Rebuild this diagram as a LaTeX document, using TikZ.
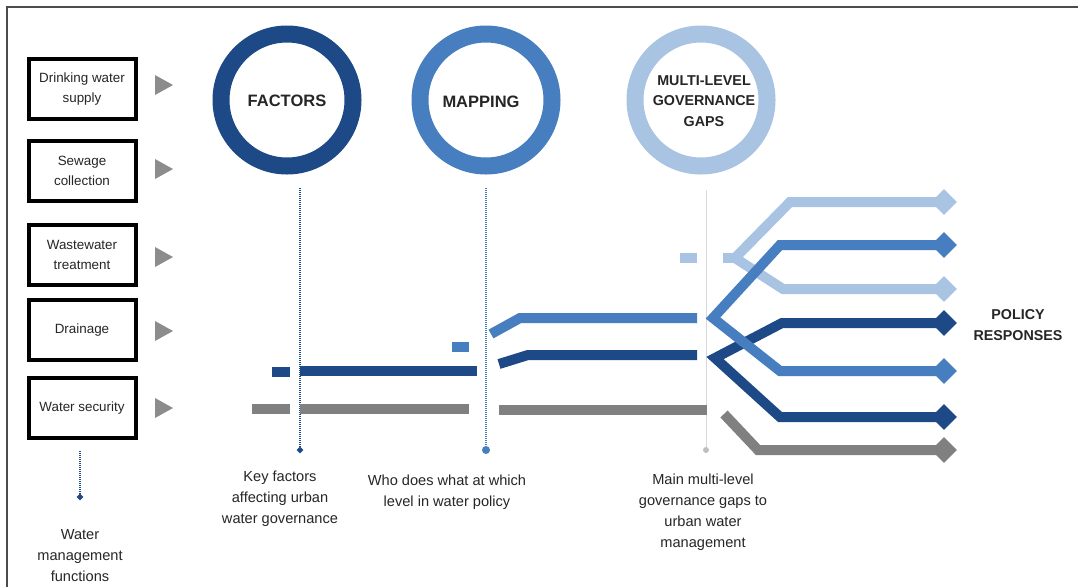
\documentclass[tikz,border=0pt]{standalone}
\usepackage{fontspec}
\setmainfont{Liberation Sans}
\usetikzlibrary{shapes.geometric}
\definecolor{navy}{RGB}{29,74,134}
\definecolor{midblue}{RGB}{70,126,192}
\definecolor{lightblue}{RGB}{169,195,226}
\definecolor{bargray}{RGB}{128,128,128}
\definecolor{trigray}{RGB}{140,140,140}
\definecolor{txt}{RGB}{38,38,38}
\begin{document}
\begin{tikzpicture}[x=1pt,y=-1pt,
  fnbox/.style={draw=black, line width=4pt, minimum width=107pt, minimum height=60pt, inner sep=0pt, align=center, font=\fontsize{13.4}{19.5}\selectfont, text=txt},
  ring/.style={line width=17pt},
  ringlabel/.style={font=\bfseries\fontsize{16.5}{20}\selectfont, text=txt, align=center},
  ringlabelsmall/.style={font=\bfseries\fontsize{14.3}{20.5}\selectfont, text=txt, align=center},
  caption/.style={font=\fontsize{14.6}{21}\selectfont, text=txt, align=center},
  bar/.style={line width=10pt, line join=miter},
  tip/.style={diamond, aspect=1, minimum size=26pt, inner sep=0pt},
  guide/.style={line width=1.3pt, dash pattern=on 1pt off 1pt},
  tri/.style={fill=trigray}
]
\useasboundingbox (0,0) rectangle (1078,587);
\fill[white] (0,0) rectangle (1078,587);
% frame
\draw[line width=1.2pt, black!70] (7,587) -- (7,7) -- (1078,7);

% function boxes
\node[fnbox] (b1) at (82,89) {Drinking water\\supply};
\node[fnbox] (b2) at (82,171) {Sewage\\collection};
\node[fnbox] (b3) at (82,255) {Wastewater\\treatment};
\node[fnbox] (b4) at (82,330) {Drainage};
\node[fnbox] (b5) at (82,408) {Water security};

% triangles
\foreach \yy in {85,169,257,331,408}{
  \fill[tri] (155,\yy-10) -- (173,\yy) -- (155,\yy+10) -- cycle;
}

% left guide
\coordinate (lg) at (80,451);
\node[diamond, aspect=1, fill=navy, minimum size=7pt, inner sep=0pt] (lgend) at (80,497) {};
\draw[guide, navy] (lg) -- (lgend);
\node[caption] (wmf) at (80,556) {Water\\management\\functions};

% circles
\draw[ring, navy] (287,100) circle (66);
\node[ringlabel] (factors) at (287,101) {FACTORS};
\draw[ring, midblue] (486,100) circle (66);
\node[ringlabel] (mapping) at (481,102) {MAPPING};
\draw[ring, lightblue] (701,100) circle (66);
\node[ringlabelsmall] (gaps) at (704,101) {MULTI-LEVEL\\GOVERNANCE\\GAPS};

% vertical guides
\coordinate (ftop) at (300,188);
\node[diamond, aspect=1, fill=navy, minimum size=7pt, inner sep=0pt] (fend) at (300,450) {};
\draw[guide, navy] (ftop) -- (fend);
\coordinate (mtop) at (486,188);
\node[circle, fill=midblue, minimum size=8pt, inner sep=0pt] (mend) at (486,450) {};
\draw[guide, midblue] (mtop) -- (mend);
\coordinate (gtop) at (706,190);
\node[circle, fill=black!25, minimum size=6pt, inner sep=0pt] (gend) at (706,450) {};
\draw[line width=1pt, black!15] (gtop) -- (gend);

% captions
\node[caption] (capf) at (280,499) {Key factors\\affecting urban\\water governance};
\node[caption] (capm) at (447,492) {Who does what at which\\level in water policy};
\node[caption] (capg) at (703,512) {Main multi-level\\governance gaps to\\urban water\\management};
\node[ringlabelsmall] (policy) at (1018,325) {POLICY\\RESPONSES};

% end diamonds
\node[tip, fill=lightblue] (r1) at (944,202) {};
\node[tip, fill=midblue] (r2) at (944,245) {};
\node[tip, fill=lightblue] (r3) at (944,289) {};
\node[tip, fill=navy] (r4) at (944,323) {};
\node[tip, fill=midblue] (r5) at (944,371) {};
\node[tip, fill=navy] (r6) at (944,417) {};
\node[tip, fill=bargray] (r7) at (944,450) {};

% gray bars
\draw[bar, bargray] (252,409) -- (290,409);
\draw[bar, bargray] (300,409) -- (469,409);
\draw[bar, bargray] (499,410) -- (707,410);
\draw[bar, bargray] (724,414) -- (758,450) -- (r7.center);

% light blue bars
\draw[bar, lightblue] (680,258) -- (697,258);
\draw[bar, lightblue] (723,258) -- (735,258);
\draw[bar, lightblue] (r1.center) -- (790,202) -- (735,258) -- (783,289) -- (r3.center);

% navy bars
\draw[bar, navy] (272,372) -- (290,372);
\draw[bar, navy] (300,371) -- (477,371);
\draw[bar, navy] (499,364) -- (528,355) -- (697,355);
\draw[bar, navy] (r4.center) -- (782,323) -- (715,358) -- (780,417) -- (r6.center);

% medium blue bars
\draw[bar, midblue] (452,347) -- (469,347);
\draw[bar, midblue] (491,334) -- (520,318) -- (697,318);
\draw[bar, midblue] (r2.center) -- (780,245) -- (713,318) -- (780,371) -- (r5.center);
\end{tikzpicture}
\end{document}
